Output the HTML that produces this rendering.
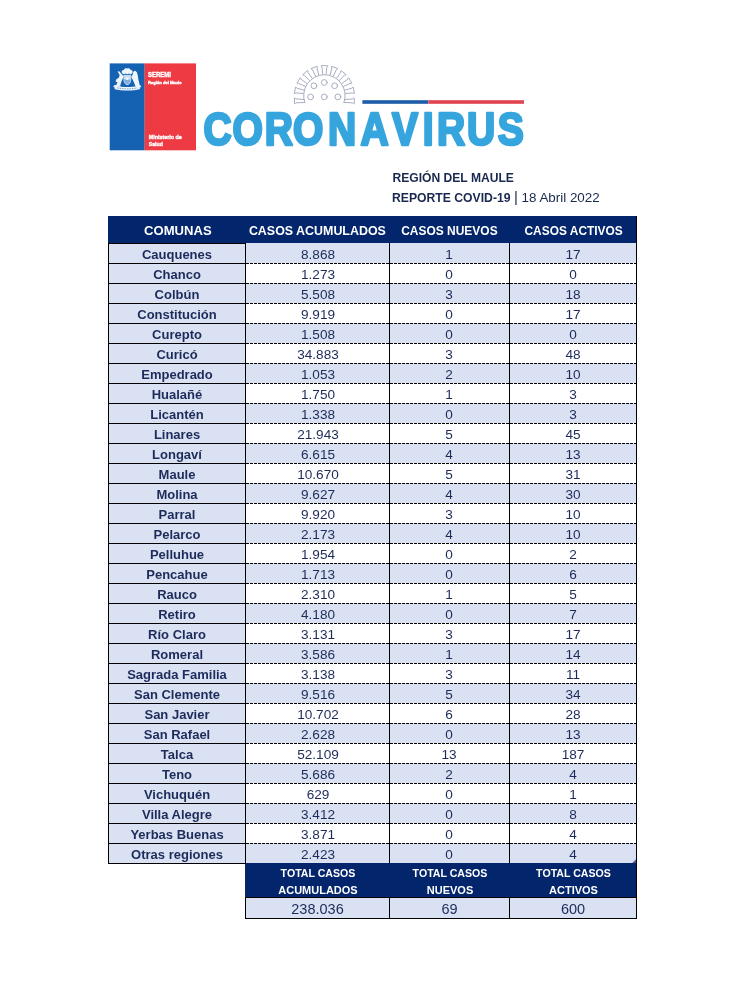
<!DOCTYPE html>
<html lang="es"><head><meta charset="utf-8"><title>Reporte COVID-19 Región del Maule</title>
<style>
*{margin:0;padding:0;box-sizing:border-box}
html,body{width:746px;height:999px;background:#fff;overflow:hidden}
body{font-family:"Liberation Sans",sans-serif;position:relative;color:#1c2b5a}
.abs{position:absolute}
.hd{position:absolute;background:#03256c;color:#fff;font-weight:bold;text-align:center;white-space:nowrap;display:flex;justify-content:center}
.hd span{display:block;flex:none}
.r{position:absolute;left:108px;width:529px;height:20px;white-space:nowrap}
.r div{position:absolute;top:0;height:20px;text-align:center;line-height:23px;font-size:13.6px;overflow:hidden}
.r .c1{left:0;width:137px;background:#d9e1f2;font-weight:bold;font-size:13px;padding-left:1px}
.r .c2{left:137px;width:144px;padding-left:2px}
.r .c3{left:281px;width:120px}
.r .c4{left:401px;width:128px}
.r.o .c2,.r.o .c3,.r.o .c4{background:#d9e1f2}
.vl{position:absolute;width:1px;background:#000}
.hl{position:absolute;height:1px;background:#000}
.dl{position:absolute;height:1px;background:repeating-linear-gradient(90deg,#000 0,#000 3px,transparent 3px,transparent 4px)}
.tv{position:absolute;background:#d9e1f2;text-align:center;font-size:14.5px;line-height:24px;height:21px;overflow:hidden;padding-left:1px}
</style></head>
<body>
<svg class="abs" style="left:0;top:0" width="746" height="165" viewBox="0 0 746 165">
<rect x="109.7" y="63.4" width="35" height="86.9" fill="#1462b1"/>
<rect x="144.6" y="63.4" width="51.4" height="86.9" fill="#ee3b43"/>
<g fill="#eef6fb">
<path transform="translate(0 .6)" d="M122.2 72.6c-1.2-1.6-.2-3.4 1.6-3.3.4-1.5 2.2-2.2 3.4-1.5 1.2-.7 3 0 3.4 1.5 1.8-.1 2.8 1.7 1.6 3.3-1.4 1.2-3 .9-3.6.3-.8.8-2 .8-2.8 0-.6.6-2.2.9-3.6-.3z"/>
<path d="M117.6 71.6l1.6-.4 4.6 5.2-.6 1.4-1.4 2.8-1.2 3.6-.4 2-3.4.4-.8-1.4 1.6-2.6-2-1 .8-2.4 2.6-1.8.6-2.4z"/>
<path d="M133.4 71.4l2-.6 1.6 1.6.8 3 .6 4 .8 3.6.6 2.8-3 .6-1.6-.6-1-2.8-1.6-3.4-1.4-2.6 1.2-1.8z"/>
<path d="M123.400 74.800h7.800v5.200c0 2.800-1.700 4.400-3.900 5.300-2.200-.9-3.900-2.500-3.900-5.300z" fill="#c4dcf1"/>
<path d="M124.200 79.400h6.200v.8c0 2.100-1.300 3.300-3.100 4.100-1.800-.8-3.100-2-3.100-4.100z" fill="#7fb0dc"/>
<circle cx="127.300" cy="78.600" r="1.500" fill="#eef6fb"/>
<path d="M113.200 86.600l1.800-1.800 1.200.6c3.400 1.100 7.200 1.500 11.100 1.500s7.700-.4 11.100-1.500l1.200-.6 1.800 1.800-1.900 1.400.9 1.100c-4 1.100-8.500 1.500-13.100 1.500s-9.100-.4-13.100-1.500l.9-1.100z"/>
</g>
<path d="M117.500 87.900c3 .7 6.300 1 9.800 1s6.800-.3 9.800-1" fill="none" stroke="#5b93cc" stroke-width=".9" stroke-dasharray="1.400 1"/>
<text x="148" y="77.400" font-family="Liberation Sans, sans-serif" font-weight="bold" font-size="6.600" fill="#fff" stroke="#fff" stroke-width=".380" textLength="23" lengthAdjust="spacingAndGlyphs">SEREMI</text>
<text x="148" y="84.200" font-family="Liberation Sans, sans-serif" font-weight="bold" font-size="4.400" fill="#fff" stroke="#fff" stroke-width=".380" textLength="33.500" lengthAdjust="spacingAndGlyphs">Región del Maule</text>
<text x="148.800" y="139" font-family="Liberation Sans, sans-serif" font-weight="bold" font-size="5.800" fill="#fff" stroke="#fff" stroke-width=".380" textLength="33" lengthAdjust="spacingAndGlyphs">Ministerio de</text>
<text x="148.800" y="146.200" font-family="Liberation Sans, sans-serif" font-weight="bold" font-size="5.800" fill="#fff" stroke="#fff" stroke-width=".380" textLength="14" lengthAdjust="spacingAndGlyphs">Salud</text>
<g fill="none" stroke="#a9aec3" stroke-width="1" stroke-linejoin="round" stroke-linecap="round">
<path d="M343.96 102.58A20.80 20.80 0 1 0 304.84 102.58"/>
<path d="M345.57 93.49L352.79 92.93L353.83 93.66L354.40 93.46L353.29 87.16L352.68 87.16L351.95 88.20L344.98 90.14"/>
<path d="M343.61 86.37L350.20 83.38L351.42 83.71L351.89 83.32L348.69 77.78L348.12 77.99L347.80 79.22L341.91 83.43"/>
<path d="M339.33 80.35L344.49 75.29L345.76 75.18L346.07 74.65L341.17 70.54L340.71 70.93L340.82 72.20L336.72 78.17"/>
<path d="M333.25 76.16L336.37 69.63L337.52 69.10L337.63 68.50L331.62 66.31L331.32 66.84L331.86 67.99L330.05 75.00"/>
<path d="M326.10 74.30L326.80 67.10L327.70 66.20L327.60 65.60L321.20 65.60L321.10 66.20L322.00 67.10L322.70 74.30"/>
<path d="M318.75 75.00L316.94 67.99L317.48 66.84L317.18 66.31L311.17 68.50L311.28 69.10L312.43 69.63L315.55 76.16"/>
<path d="M312.08 78.17L307.98 72.20L308.09 70.93L307.63 70.54L302.73 74.65L303.04 75.18L304.31 75.29L309.47 80.35"/>
<path d="M306.89 83.43L301.00 79.22L300.68 77.99L300.11 77.78L296.91 83.32L297.38 83.71L298.60 83.38L305.19 86.37"/>
<path d="M303.82 90.14L296.85 88.20L296.12 87.16L295.51 87.16L294.40 93.46L294.97 93.66L296.01 92.93L303.23 93.49"/>
<path d="M304.40 99.60L296.00 98.90L295.10 98.00L294.50 98.10L294.50 103.70L295.10 103.80L296.00 102.80L304.40 102.50"/>
<path d="M344.40 99.60L352.80 98.90L353.70 98.00L354.30 98.10L354.30 103.70L353.70 103.80L352.80 102.80L344.40 102.50"/>
<circle cx="313.9" cy="85.8" r="2.900"/>
<circle cx="324.3" cy="82.5" r="2.900"/>
<circle cx="334.6" cy="85.8" r="2.900"/>
<circle cx="310.6" cy="96.9" r="2.900"/>
<circle cx="324.3" cy="96.9" r="2.900"/>
<circle cx="337.9" cy="96.9" r="2.900"/>
</g>
<rect x="362.400" y="100.200" width="66" height="3.600" fill="#1f5ca8"/>
<rect x="428.400" y="100.200" width="95.600" height="3.600" fill="#e2444f"/>
</svg>
<svg class="abs" style="left:0;top:95px" width="746" height="70" viewBox="0 95 746 70"><text id="cv" transform="scale(0.83 1)" x="262.2 298.3 336.0 371.3 412.2 451.4 488.0 515.9 543.6 579.6 615.3" y="144.800" text-anchor="middle" font-family="Liberation Sans, sans-serif" font-weight="bold" font-size="47" fill="#36a5dd" stroke="#36a5dd" stroke-width="2.500" stroke-linejoin="round" vector-effect="non-scaling-stroke">CORONAVIRUS</text></svg>
<div class="abs" id="t1" style="left:392.500px;top:170px;font-size:12.100px;font-weight:bold;line-height:16px;white-space:nowrap;color:#18284f">REGIÓN DEL MAULE</div>
<div class="abs" id="t2" style="left:392.500px;top:190px;width:230px;height:18px;font-size:12px;line-height:16px;white-space:nowrap;color:#18284f"><b id="t2a" style="position:absolute;left:-.5px;top:0;font-size:12.200px">REPORTE COVID-19</b><span id="t2b" style="position:absolute;left:121.500px;top:-1px;font-size:15px">|</span><span id="t2c" style="position:absolute;left:129px;top:0;font-size:13.400px">18 Abril 2022</span></div>
<div class="hd" style="left:108px;top:216px;width:529px;height:27px"></div>
<div class="hd" id="h0" style="left:109.5px;top:216px;width:137px;height:27px;line-height:29px;font-size:13.5px;background:none"><span style="transform:scaleX(0.969)">COMUNAS</span></div>
<div class="hd" id="h1" style="left:245.5px;top:216px;width:144px;height:27px;line-height:29px;font-size:13.5px;background:none"><span style="transform:scaleX(0.921)">CASOS ACUMULADOS</span></div>
<div class="hd" id="h2" style="left:389.5px;top:216px;width:120px;height:27px;line-height:29px;font-size:13.5px;background:none"><span style="transform:scaleX(0.887)">CASOS NUEVOS</span></div>
<div class="hd" id="h3" style="left:510.0px;top:216px;width:127px;height:27px;line-height:29px;font-size:13.5px;background:none"><span style="transform:scaleX(0.883)">CASOS ACTIVOS</span></div>
<div class="r o" style="top:243px"><div class="c1">Cauquenes</div><div class="c2">8.868</div><div class="c3">1</div><div class="c4">17</div></div>
<div class="r" style="top:263px"><div class="c1">Chanco</div><div class="c2">1.273</div><div class="c3">0</div><div class="c4">0</div></div>
<div class="r o" style="top:283px"><div class="c1">Colbún</div><div class="c2">5.508</div><div class="c3">3</div><div class="c4">18</div></div>
<div class="r" style="top:303px"><div class="c1">Constitución</div><div class="c2">9.919</div><div class="c3">0</div><div class="c4">17</div></div>
<div class="r o" style="top:323px"><div class="c1">Curepto</div><div class="c2">1.508</div><div class="c3">0</div><div class="c4">0</div></div>
<div class="r" style="top:343px"><div class="c1">Curicó</div><div class="c2">34.883</div><div class="c3">3</div><div class="c4">48</div></div>
<div class="r o" style="top:363px"><div class="c1">Empedrado</div><div class="c2">1.053</div><div class="c3">2</div><div class="c4">10</div></div>
<div class="r" style="top:383px"><div class="c1">Hualañé</div><div class="c2">1.750</div><div class="c3">1</div><div class="c4">3</div></div>
<div class="r o" style="top:403px"><div class="c1">Licantén</div><div class="c2">1.338</div><div class="c3">0</div><div class="c4">3</div></div>
<div class="r" style="top:423px"><div class="c1">Linares</div><div class="c2">21.943</div><div class="c3">5</div><div class="c4">45</div></div>
<div class="r o" style="top:443px"><div class="c1">Longaví</div><div class="c2">6.615</div><div class="c3">4</div><div class="c4">13</div></div>
<div class="r" style="top:463px"><div class="c1">Maule</div><div class="c2">10.670</div><div class="c3">5</div><div class="c4">31</div></div>
<div class="r o" style="top:483px"><div class="c1">Molina</div><div class="c2">9.627</div><div class="c3">4</div><div class="c4">30</div></div>
<div class="r" style="top:503px"><div class="c1">Parral</div><div class="c2">9.920</div><div class="c3">3</div><div class="c4">10</div></div>
<div class="r o" style="top:523px"><div class="c1">Pelarco</div><div class="c2">2.173</div><div class="c3">4</div><div class="c4">10</div></div>
<div class="r" style="top:543px"><div class="c1">Pelluhue</div><div class="c2">1.954</div><div class="c3">0</div><div class="c4">2</div></div>
<div class="r o" style="top:563px"><div class="c1">Pencahue</div><div class="c2">1.713</div><div class="c3">0</div><div class="c4">6</div></div>
<div class="r" style="top:583px"><div class="c1">Rauco</div><div class="c2">2.310</div><div class="c3">1</div><div class="c4">5</div></div>
<div class="r o" style="top:603px"><div class="c1">Retiro</div><div class="c2">4.180</div><div class="c3">0</div><div class="c4">7</div></div>
<div class="r" style="top:623px"><div class="c1">Río Claro</div><div class="c2">3.131</div><div class="c3">3</div><div class="c4">17</div></div>
<div class="r o" style="top:643px"><div class="c1">Romeral</div><div class="c2">3.586</div><div class="c3">1</div><div class="c4">14</div></div>
<div class="r" style="top:663px"><div class="c1">Sagrada Familia</div><div class="c2">3.138</div><div class="c3">3</div><div class="c4">11</div></div>
<div class="r o" style="top:683px"><div class="c1">San Clemente</div><div class="c2">9.516</div><div class="c3">5</div><div class="c4">34</div></div>
<div class="r" style="top:703px"><div class="c1">San Javier</div><div class="c2">10.702</div><div class="c3">6</div><div class="c4">28</div></div>
<div class="r o" style="top:723px"><div class="c1">San Rafael</div><div class="c2">2.628</div><div class="c3">0</div><div class="c4">13</div></div>
<div class="r" style="top:743px"><div class="c1">Talca</div><div class="c2">52.109</div><div class="c3">13</div><div class="c4">187</div></div>
<div class="r o" style="top:763px"><div class="c1">Teno</div><div class="c2">5.686</div><div class="c3">2</div><div class="c4">4</div></div>
<div class="r" style="top:783px"><div class="c1">Vichuquén</div><div class="c2">629</div><div class="c3">0</div><div class="c4">1</div></div>
<div class="r o" style="top:803px"><div class="c1">Villa Alegre</div><div class="c2">3.412</div><div class="c3">0</div><div class="c4">8</div></div>
<div class="r" style="top:823px"><div class="c1">Yerbas Buenas</div><div class="c2">3.871</div><div class="c3">0</div><div class="c4">4</div></div>
<div class="r o" style="top:843px"><div class="c1">Otras regiones</div><div class="c2">2.423</div><div class="c3">0</div><div class="c4">4</div></div>
<div class="hd" style="left:245px;top:863px;width:392px;height:34px"></div>
<div class="hd" style="left:246px;top:863px;width:144px;height:34px;font-size:11px;line-height:17px;background:none;padding-top:2px;flex-direction:column;justify-content:flex-start;align-items:center"><span style="font-size:10.600px">TOTAL CASOS</span><span>ACUMULADOS</span></div>
<div class="tv" style="left:245px;top:897px;width:144px">238.036</div>
<div class="hd" style="left:390px;top:863px;width:120px;height:34px;font-size:11px;line-height:17px;background:none;padding-top:2px;flex-direction:column;justify-content:flex-start;align-items:center"><span style="font-size:10.600px">TOTAL CASOS</span><span>NUEVOS</span></div>
<div class="tv" style="left:389px;top:897px;width:120px">69</div>
<div class="hd" style="left:510px;top:863px;width:127px;height:34px;font-size:11px;line-height:17px;background:none;padding-top:2px;flex-direction:column;justify-content:flex-start;align-items:center"><span style="font-size:10.600px">TOTAL CASOS</span><span>ACTIVOS</span></div>
<div class="tv" style="left:509px;top:897px;width:127px">600</div>
<div class="vl" style="left:108px;top:243px;height:621px"></div>
<div class="vl" style="left:245px;top:243px;height:620px"></div>
<div class="vl" style="left:245px;top:897px;height:22px"></div>
<div class="vl" style="left:389px;top:243px;height:620px"></div>
<div class="vl" style="left:389px;top:897px;height:22px"></div>
<div class="vl" style="left:509px;top:243px;height:620px"></div>
<div class="vl" style="left:509px;top:897px;height:22px"></div>
<div class="vl" style="left:636px;top:216px;height:703px"></div>
<div class="hl" style="left:108px;top:243px;width:138px"></div>
<div class="hl" style="left:108px;top:263px;width:138px"></div>
<div class="dl" style="left:246px;top:263px;width:390px"></div>
<div class="hl" style="left:108px;top:283px;width:138px"></div>
<div class="dl" style="left:246px;top:283px;width:390px"></div>
<div class="hl" style="left:108px;top:303px;width:138px"></div>
<div class="dl" style="left:246px;top:303px;width:390px"></div>
<div class="hl" style="left:108px;top:323px;width:138px"></div>
<div class="dl" style="left:246px;top:323px;width:390px"></div>
<div class="hl" style="left:108px;top:343px;width:138px"></div>
<div class="dl" style="left:246px;top:343px;width:390px"></div>
<div class="hl" style="left:108px;top:363px;width:138px"></div>
<div class="dl" style="left:246px;top:363px;width:390px"></div>
<div class="hl" style="left:108px;top:383px;width:138px"></div>
<div class="dl" style="left:246px;top:383px;width:390px"></div>
<div class="hl" style="left:108px;top:403px;width:138px"></div>
<div class="dl" style="left:246px;top:403px;width:390px"></div>
<div class="hl" style="left:108px;top:423px;width:138px"></div>
<div class="dl" style="left:246px;top:423px;width:390px"></div>
<div class="hl" style="left:108px;top:443px;width:138px"></div>
<div class="dl" style="left:246px;top:443px;width:390px"></div>
<div class="hl" style="left:108px;top:463px;width:138px"></div>
<div class="dl" style="left:246px;top:463px;width:390px"></div>
<div class="hl" style="left:108px;top:483px;width:138px"></div>
<div class="dl" style="left:246px;top:483px;width:390px"></div>
<div class="hl" style="left:108px;top:503px;width:138px"></div>
<div class="dl" style="left:246px;top:503px;width:390px"></div>
<div class="hl" style="left:108px;top:523px;width:138px"></div>
<div class="dl" style="left:246px;top:523px;width:390px"></div>
<div class="hl" style="left:108px;top:543px;width:138px"></div>
<div class="dl" style="left:246px;top:543px;width:390px"></div>
<div class="hl" style="left:108px;top:563px;width:138px"></div>
<div class="dl" style="left:246px;top:563px;width:390px"></div>
<div class="hl" style="left:108px;top:583px;width:138px"></div>
<div class="dl" style="left:246px;top:583px;width:390px"></div>
<div class="hl" style="left:108px;top:603px;width:138px"></div>
<div class="dl" style="left:246px;top:603px;width:390px"></div>
<div class="hl" style="left:108px;top:623px;width:138px"></div>
<div class="dl" style="left:246px;top:623px;width:390px"></div>
<div class="hl" style="left:108px;top:643px;width:138px"></div>
<div class="dl" style="left:246px;top:643px;width:390px"></div>
<div class="hl" style="left:108px;top:663px;width:138px"></div>
<div class="dl" style="left:246px;top:663px;width:390px"></div>
<div class="hl" style="left:108px;top:683px;width:138px"></div>
<div class="dl" style="left:246px;top:683px;width:390px"></div>
<div class="hl" style="left:108px;top:703px;width:138px"></div>
<div class="dl" style="left:246px;top:703px;width:390px"></div>
<div class="hl" style="left:108px;top:723px;width:138px"></div>
<div class="dl" style="left:246px;top:723px;width:390px"></div>
<div class="hl" style="left:108px;top:743px;width:138px"></div>
<div class="dl" style="left:246px;top:743px;width:390px"></div>
<div class="hl" style="left:108px;top:763px;width:138px"></div>
<div class="dl" style="left:246px;top:763px;width:390px"></div>
<div class="hl" style="left:108px;top:783px;width:138px"></div>
<div class="dl" style="left:246px;top:783px;width:390px"></div>
<div class="hl" style="left:108px;top:803px;width:138px"></div>
<div class="dl" style="left:246px;top:803px;width:390px"></div>
<div class="hl" style="left:108px;top:823px;width:138px"></div>
<div class="dl" style="left:246px;top:823px;width:390px"></div>
<div class="hl" style="left:108px;top:843px;width:138px"></div>
<div class="dl" style="left:246px;top:843px;width:390px"></div>
<div class="hl" style="left:108px;top:863px;width:138px"></div>
<div class="hl" style="left:245px;top:897px;width:392px"></div>
<div class="hl" style="left:245px;top:918px;width:392px"></div>
<svg class="abs" style="left:631px;top:858px" width="5" height="5" viewBox="0 0 5 5"><path d="M5 1.200V5H1.200z" fill="#54578c"/></svg>
</body></html>
